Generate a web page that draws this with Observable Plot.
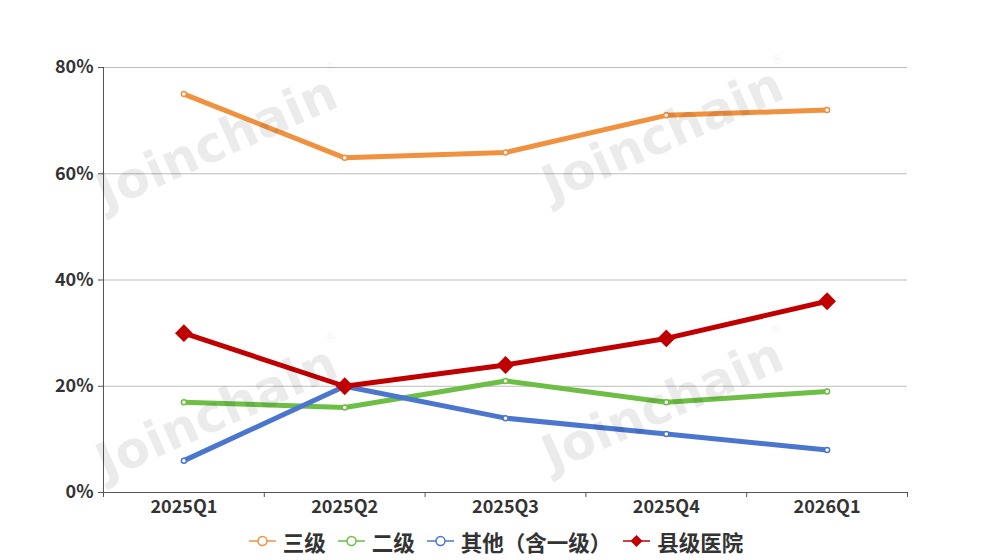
<!DOCTYPE html>
<html><head><meta charset="utf-8">
<script src="https://cdn.jsdelivr.net/npm/d3@7"></script>
<script src="https://cdn.jsdelivr.net/npm/@observablehq/plot@0.6"></script>
<style>
body{margin:0;background:#fff;font-family:"Noto Sans CJK SC","Noto Sans",sans-serif;}
#wrap{position:relative;width:1008px;height:560px;overflow:hidden;background:#fff}
#chart svg{display:block}
#legend{display:flex;justify-content:center;align-items:center;height:32px;gap:12px;margin-left:-16px;color:#333;font-weight:bold;font-size:21.5px}
.item{display:flex;align-items:center;gap:7px}
.wm{position:absolute;transform:translate(-50%,-50%) rotate(-24deg);font-family:"DejaVu Sans",sans-serif;font-weight:bold;font-size:50px;color:rgba(0,0,0,0.08);white-space:nowrap;pointer-events:none}
.wm sup{font-size:12px;font-weight:normal;vertical-align:top}
</style></head>
<body>
<div id="wrap">
<div id="chart"></div>
<div id="legend"></div>
</div>
<script>
const quarters = ["2025Q1","2025Q2","2025Q3","2025Q4","2026Q1"];
const seriesNames = ["三级","二级","其他（含一级）","县级医院"];
const tier3 = [0.75,0.63,0.64,0.71,0.72];
const tier2 = [0.17,0.16,0.21,0.17,0.19];
const other = [0.06,0.20,0.14,0.11,0.08];
const county = [0.30,0.20,0.24,0.29,0.36];
const colors = ["#F0913F","#6DBE45","#4A76CF","#C00000"];
const yTicks = [0,0.2,0.4,0.6,0.8];

const seriesValues = [tier3, tier2, other, county];
const rows = seriesValues.flatMap((vals, k) => vals.map((v, i) => ({s: seriesNames[k], i, v})));
const hollowRows = rows.filter(d => d.s !== "县级医院");
const countyRows = rows.filter(d => d.s === "县级医院");

const chart = Plot.plot({
  width: 1008,
  height: 525,
  marginLeft: 103,
  marginRight: 101,
  marginTop: 67,
  marginBottom: 33,
  style: {fontFamily: '"Noto Sans CJK SC","Noto Sans",sans-serif', color: "#333", background: "transparent"},
  x: {domain: [-0.5, 4.5]},
  y: {domain: [0, 0.8]},
  color: {domain: seriesNames, range: colors},
  marks: [
    Plot.gridY(yTicks, {stroke: "#bdbdbd", strokeOpacity: 1}),
    Plot.axisY(yTicks, {tickFormat: d3.format(".0%"), tickSize: 5, tickPadding: 5, fontSize: 18, fontWeight: "bold", label: null, stroke: "#555"}),
    Plot.axisX(d3.range(quarters.length), {tickFormat: i => quarters[i], tickSize: 0, tickPadding: 8, fontSize: 18, fontWeight: "bold", label: null}),
    Plot.axisX(d3.range(quarters.length + 1).map(i => i - 0.5), {tickFormat: () => "", tickSize: 5, label: null, stroke: "#555"}),
    Plot.ruleX([-0.5], {stroke: "#555"}),
    Plot.ruleY([0], {stroke: "#555"}),
    Plot.line(rows, {x: "i", y: "v", z: "s", stroke: "s", strokeWidth: 5, strokeLinejoin: "round", strokeLinecap: "round"}),
    Plot.dot(hollowRows, {x: "i", y: "v", stroke: "s", fill: "white", r: 2.5, strokeWidth: 1.5}),
    Plot.dot(countyRows, {x: "i", y: "v", symbol: "diamond2", fill: "s", r: 8})
  ]
});
document.getElementById("chart").append(chart);

const legend = document.getElementById("legend");
seriesNames.forEach((name, k) => {
  const item = document.createElement("div");
  item.className = "item";
  const c = colors[k];
  const marker = k === 3
    ? `<path d="M13.5,2 L19.5,8 L13.5,14 L7.5,8 Z" fill="${c}"/>`
    : `<circle cx="13.5" cy="8" r="4.5" fill="white" stroke="${c}" stroke-width="1.5"/>`;
  item.innerHTML = `<svg width="27" height="16"><line x1="0" x2="27" y1="8" y2="8" stroke="${c}" stroke-width="1.5"/>${marker}</svg><span>${name}</span>`;
  legend.append(item);
});

const wrap = document.getElementById("wrap");
[[222,140],[668,132],[222,410],[668,402]].forEach(([x,y]) => {
  const w = document.createElement("div");
  w.className = "wm";
  w.style.left = x + "px";
  w.style.top = y + "px";
  w.innerHTML = "Joinchain<sup>®</sup>";
  wrap.append(w);
});
</script>
</body></html>
